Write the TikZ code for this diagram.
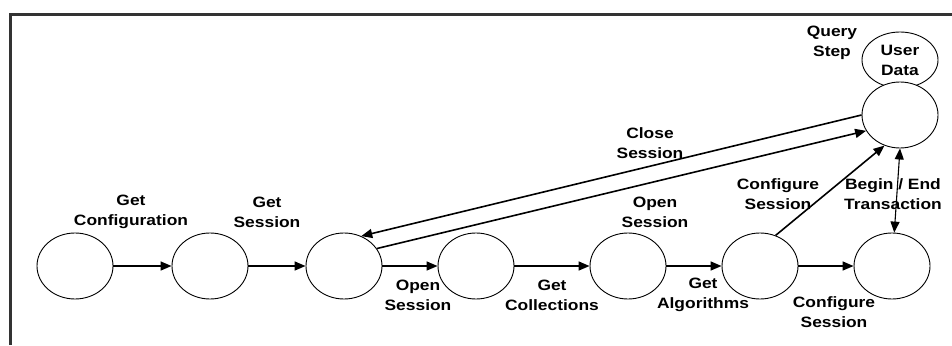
\documentclass[tikz,border=0pt]{standalone}
\usepackage{fontspec}
\setmainfont{Liberation Sans}
\newfontfamily\labfont[FakeStretch=1.16]{Liberation Sans}
\usetikzlibrary{shapes.geometric,arrows.meta}
\tikzset{
  st/.style={ellipse,draw,line width=0.9pt,minimum width=76pt,minimum height=66pt,inner sep=0pt,fill=white},
  lab/.style={align=center,font=\labfont\fontsize{15}{20}\selectfont\bfseries,inner sep=0pt},
  arr/.style={line width=1.4pt,-{Triangle[length=11pt,width=9pt]}},
  darr/.style={line width=1.1pt,{Triangle[length=11pt,width=9pt]}-{Triangle[length=11pt,width=9pt]}},
  frameline/.style={line width=3pt,draw=black!80}
}
\begin{document}
\begin{tikzpicture}[x=1pt,y=-1pt]
\useasboundingbox (0,0) rectangle (952,345);
\coordinate (fa) at (10,345);
\coordinate (fb) at (10,15);
\coordinate (fc) at (952,15);
\draw[frameline] (fa) -- (fb) -- (fc);
% states
\node[st] (e1) at (75,266) {};
\node[st] (e2) at (210,266) {};
\node[st] (e3) at (344,266) {};
\node[st] (e4) at (476,266) {};
\node[st] (e5) at (628,266) {};
\node[st] (e6) at (760,266) {};
\node[st] (e7) at (892,266) {};
\node[st,minimum height=56pt] (ud) at (900,60) {};
\node[st] (q) at (900,115) {};
% connectors
\draw[arr] (e1) -- (e2);
\draw[arr] (e2) -- (e3);
\draw[arr] (e3) -- (e4);
\draw[arr] (e4) -- (e5);
\draw[arr] (e5) -- (e6);
\draw[arr] (e6) -- (e7);
\draw[arr,line width=1.6pt] (q.180) -- (e3.60);
\draw[arr,line width=1.6pt] (e3.28) -- (q.205);
\draw[arr,line width=1.6pt] (e6.63) -- (q.243);
\draw[darr] (q.south) -- (e7);
% labels
\node[lab] (l1) at (131,212) {Get\\Configuration};
\node[lab] (l2) at (267,212) {Get\\Session};
\node[lab] (l3) at (418,295) {Open\\Session};
\node[lab] (l4) at (552,295) {Get\\Collections};
\node[lab] (l5) at (655,212) {Open\\Session};
\node[lab] (l6) at (703,295) {Get\\Algorithms};
\node[lab] (l7) at (834,312) {Configure\\Session};
\node[lab] (l8) at (778,194) {Configure\\Session};
\node[lab] (l9) at (893,194) {Begin / End\\Transaction};
\node[lab] (l10) at (650,143) {Close\\Session};
\node[lab] (l11) at (832,43) {Query\\Step};
\node[lab] (l12) at (900,60) {User\\Data};
\end{tikzpicture}
\end{document}
